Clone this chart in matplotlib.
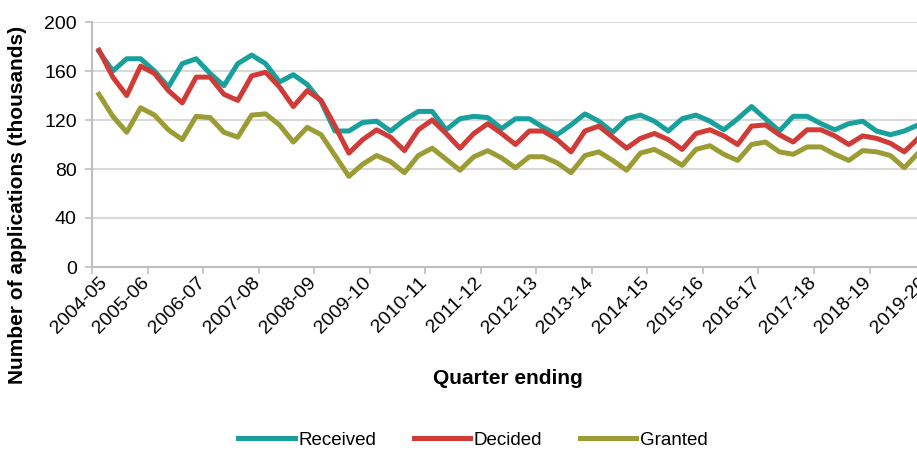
import numpy as np
import matplotlib
matplotlib.use('Agg')
import matplotlib.pyplot as plt

plt.rcParams['font.family'] = ['Liberation Sans', 'DejaVu Sans']

# quarterly figures, thousands of applications (first quarter of 2004-05 onwards)
received = [176, 160, 170, 170, 160, 147, 166, 170, 158, 148,
            166, 173, 166, 151, 157, 149, 135, 111, 111, 118,
            119, 111, 120, 127, 127, 112, 121, 123, 122, 113,
            121, 121, 114, 108, 116, 125, 119, 110, 121, 124,
            119, 111, 121, 124, 119, 112, 121, 131, 121, 111,
            123, 123, 117, 112, 117, 119, 111, 108, 111, 116]
decided = [177, 155, 140, 164, 158, 144, 134, 155, 155, 141,
           136, 156, 159, 147, 131, 144, 136, 115, 93, 104,
           112, 106, 95, 112, 120, 109, 97, 109, 117, 109,
           100, 111, 111, 104, 94, 111, 115, 106, 97, 105,
           109, 104, 96, 109, 112, 107, 100, 115, 116, 108,
           102, 112, 112, 107, 100, 107, 105, 101, 94, 105]
granted = [141, 123, 110, 130, 124, 112, 104, 123, 122, 110,
           106, 124, 125, 116, 102, 114, 108, 91, 74, 84,
           91, 86, 77, 91, 97, 88, 79, 90, 95, 89,
           81, 90, 90, 85, 77, 91, 94, 87, 79, 93,
           96, 90, 83, 96, 99, 92, 87, 100, 102, 94,
           92, 98, 98, 92, 87, 95, 94, 91, 81, 93]
years = ['2004-05', '2005-06', '2006-07', '2007-08', '2008-09', '2009-10',
         '2010-11', '2011-12', '2012-13', '2013-14', '2014-15', '2015-16',
         '2016-17', '2017-18', '2018-19', '2019-20']

fig = plt.figure(figsize=(9.17, 4.5), dpi=100)
# axes run a little past the right edge, the original picture is cropped there
ax = fig.add_axes([92 / 917, 183 / 450, 847 / 917, 245 / 450])

x = np.arange(len(received))
ax.plot(x, received, color='#17a09c', lw=3.6, label='Received')
ax.plot(x, decided, color='#d13b37', lw=3.6, label='Decided')
ax.plot(x, granted, color='#9c9c35', lw=3.6, label='Granted')

ax.set_xlim(-0.5, 60.5)
ax.set_ylim(0, 200)
ax.set_yticks(range(0, 201, 40))
ax.yaxis.grid(True, color='#d9d9d9', lw=1.5)
ax.set_axisbelow(True)

# tick marks between year groups; labels sit just left of each tick
# (the first one is nudged inside the plot, like the original)
ax.set_xticks(np.arange(-0.5, 61, 4))
ax.set_xticklabels([])
label_pos = [0] + [4 * k - 1 for k in range(1, len(years))]
ax.set_xticks(label_pos, minor=True)
ax.set_xticklabels(years, minor=True, rotation=45, ha='right', va='top',
                   rotation_mode='anchor', fontsize=14)
ax.tick_params(axis='x', which='major', length=5, color='#bfbfbf', width=1.2)
ax.tick_params(axis='x', which='minor', length=0, pad=5)
ax.tick_params(axis='y', length=5, color='#bfbfbf', width=1.2, labelsize=14, pad=6)

for s in ['top', 'right']:
    ax.spines[s].set_visible(False)
for s in ['left', 'bottom']:
    ax.spines[s].set_color('#bfbfbf')
    ax.spines[s].set_linewidth(1.5)

fig.text(18 / 917, 0.545, 'Number of applications (thousands)', rotation=90,
         ha='center', va='center', fontsize=15, fontweight='bold')
fig.text(508 / 917, 1 - 378 / 450, 'Quarter ending', ha='center', va='center',
         fontsize=15, fontweight='bold')

fig.legend(loc='center', bbox_to_anchor=(473 / 917, 1 - 440 / 450), ncol=3,
           frameon=False, fontsize=13.5, handlelength=3.0, handletextpad=0.2,
           columnspacing=2.0)

fig.savefig('out.png', dpi=100)
